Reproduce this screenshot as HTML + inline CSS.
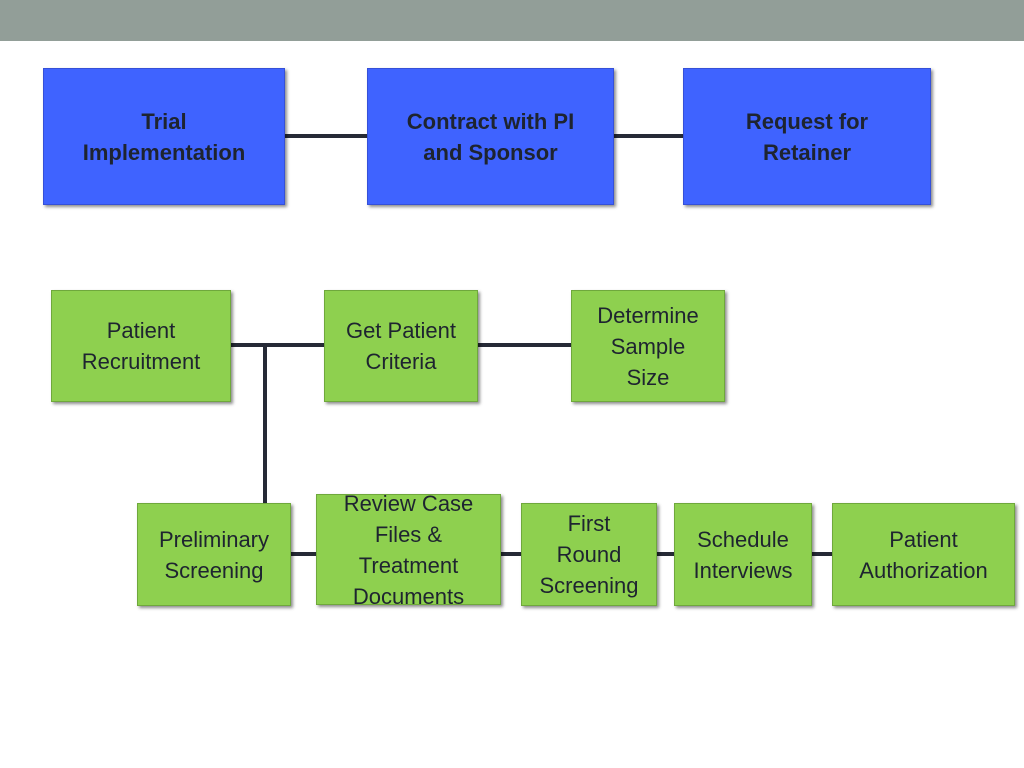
<!DOCTYPE html>
<html><head><meta charset="utf-8"><style>
body{margin:0;width:1024px;height:768px;background:#fff;position:relative;overflow:hidden;font-family:"Liberation Sans",Arial,sans-serif}
.bar{position:absolute;left:0;top:0;width:1024px;height:41px;background:#929e98}
.b{position:absolute;display:flex;align-items:center;justify-content:center;text-align:center;font-size:22px;line-height:31px;color:#1e2430;box-shadow:2px 2px 3px rgba(0,0,0,0.45);box-sizing:border-box}
.blue{background:#3f63ff;font-weight:bold;border:1px solid #3550d8}
.green{background:#8ed04f;border:1px solid #6fa83c}
.l{position:absolute;background:#262a36}
</style></head><body>
<div class="bar"></div>
<div class="l" style="left:285px;top:134px;width:400px;height:4px"></div>
<div class="l" style="left:231px;top:343px;width:342px;height:4px"></div>
<div class="l" style="left:263px;top:345px;width:4px;height:160px"></div>
<div class="l" style="left:291px;top:552px;width:545px;height:4px"></div>

<div class="b blue" style="left:43px;top:68px;width:242px;height:137px">Trial<br>Implementation</div>
<div class="b blue" style="left:367px;top:68px;width:247px;height:137px">Contract with PI<br>and Sponsor</div>
<div class="b blue" style="left:683px;top:68px;width:248px;height:137px">Request for<br>Retainer</div>

<div class="b green" style="left:51px;top:290px;width:180px;height:112px">Patient<br>Recruitment</div>
<div class="b green" style="left:324px;top:290px;width:154px;height:112px">Get Patient<br>Criteria</div>
<div class="b green" style="left:571px;top:290px;width:154px;height:112px">Determine<br>Sample<br>Size</div>

<div class="b green" style="left:137px;top:503px;width:154px;height:103px">Preliminary<br>Screening</div>
<div class="b green" style="left:316px;top:494px;width:185px;height:111px">Review Case<br>Files &amp;<br>Treatment<br>Documents</div>
<div class="b green" style="left:521px;top:503px;width:136px;height:103px">First<br>Round<br>Screening</div>
<div class="b green" style="left:674px;top:503px;width:138px;height:103px">Schedule<br>Interviews</div>
<div class="b green" style="left:832px;top:503px;width:183px;height:103px">Patient<br>Authorization</div>
</body></html>
